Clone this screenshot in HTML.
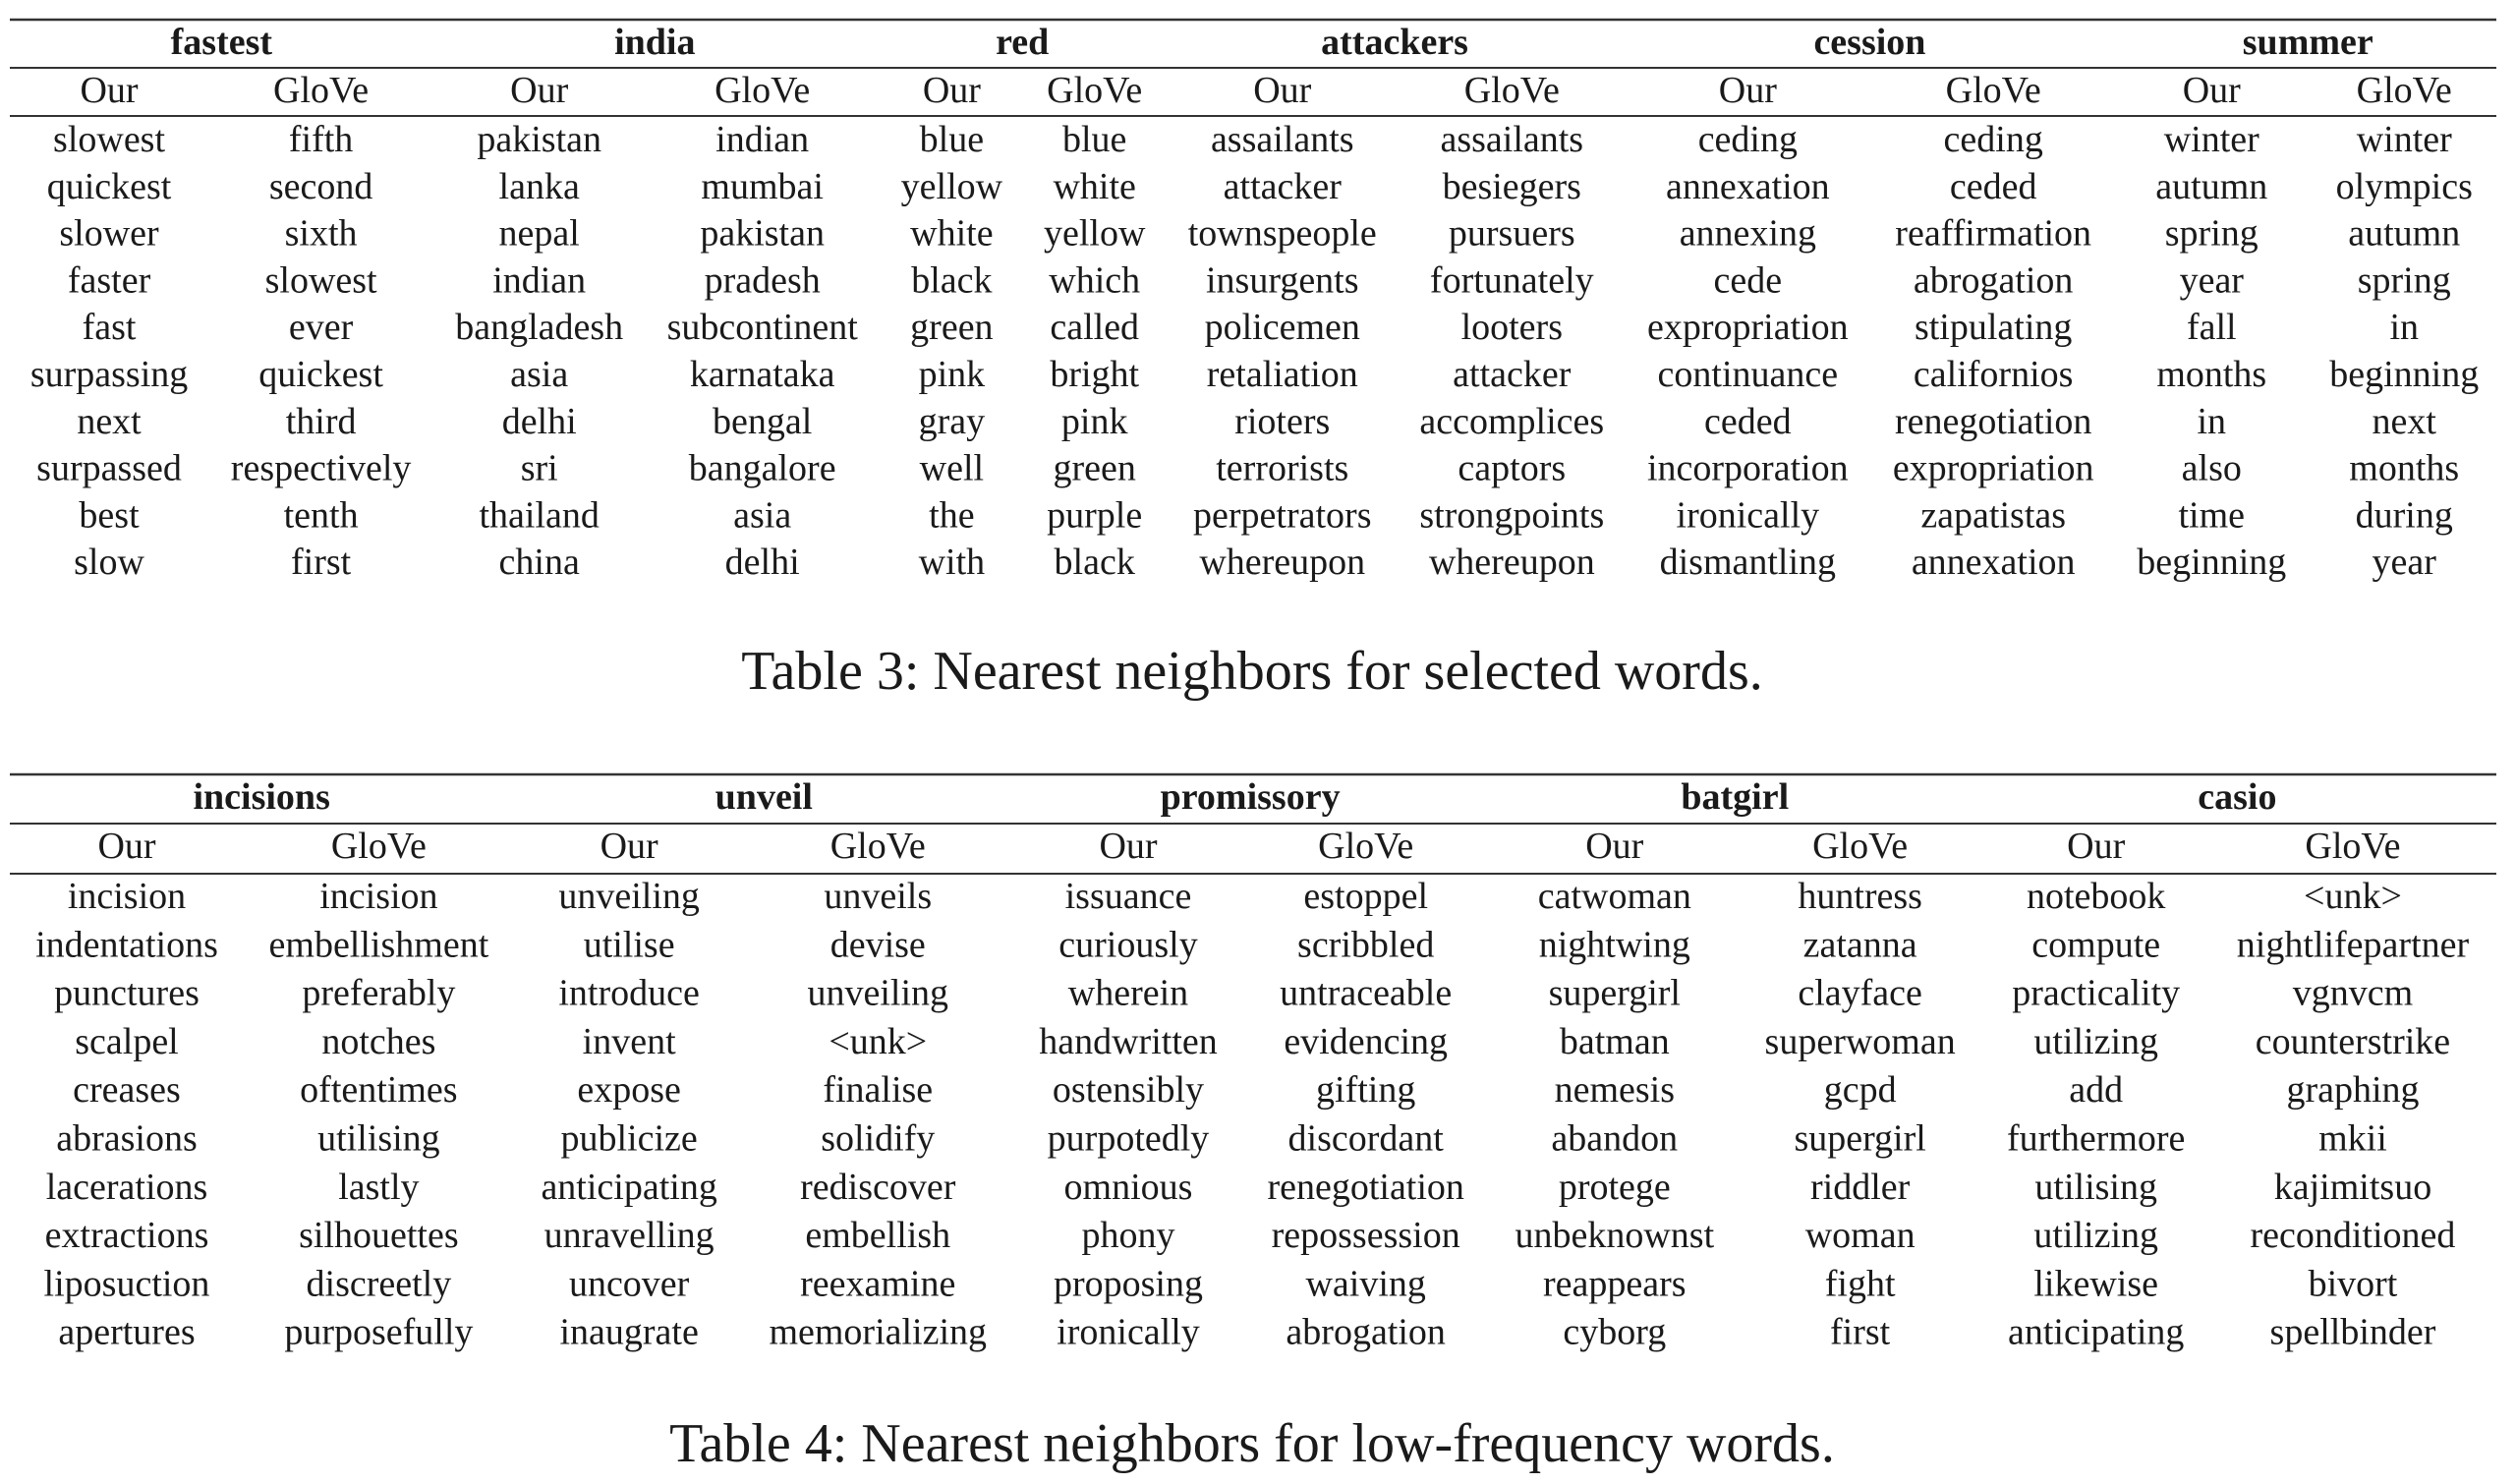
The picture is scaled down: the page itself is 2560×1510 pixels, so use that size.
<!DOCTYPE html>
<html><head><meta charset="utf-8">
<style>
html,body{margin:0;padding:0;background:#fff;}
svg{display:block;}
text{font-family:"Liberation Serif",serif;fill:#1a1a1a;}
</style></head>
<body>
<svg id="fig" width="2560" height="1510" viewBox="0 0 2560 1510" xmlns="http://www.w3.org/2000/svg">
<g id="t3"></g>
<g id="t4"></g>
<text x="1274" y="701" font-size="56" text-anchor="middle">Table 3: Nearest neighbors for selected words.</text>
<text x="1274" y="1487" font-size="56" text-anchor="middle">Table 4: Nearest neighbors for low-frequency words.</text>
</svg>
<script>
const t3Words = ["fastest","india","red","attackers","cession","summer"];
const t3HeadX = [138,408,637,869,1165,1438];
const t3ColX = [68,200,336,475,593,682,799,942,1089,1242,1378,1498];
const t3Cols = [
["slowest","quickest","slower","faster","fast","surpassing","next","surpassed","best","slow"],
["fifth","second","sixth","slowest","ever","quickest","third","respectively","tenth","first"],
["pakistan","lanka","nepal","indian","bangladesh","asia","delhi","sri","thailand","china"],
["indian","mumbai","pakistan","pradesh","subcontinent","karnataka","bengal","bangalore","asia","delhi"],
["blue","yellow","white","black","green","pink","gray","well","the","with"],
["blue","white","yellow","which","called","bright","pink","green","purple","black"],
["assailants","attacker","townspeople","insurgents","policemen","retaliation","rioters","terrorists","perpetrators","whereupon"],
["assailants","besiegers","pursuers","fortunately","looters","attacker","accomplices","captors","strongpoints","whereupon"],
["ceding","annexation","annexing","cede","expropriation","continuance","ceded","incorporation","ironically","dismantling"],
["ceding","ceded","reaffirmation","abrogation","stipulating","californios","renegotiation","expropriation","zapatistas","annexation"],
["winter","autumn","spring","year","fall","months","in","also","time","beginning"],
["winter","olympics","autumn","spring","in","beginning","next","months","during","year"]
];
const t4Words = ["incisions","unveil","promissory","batgirl","casio"];
const t4HeadX = [163,476,779,1081,1394];
const t4ColX = [79,236,392,547,703,851,1006,1159,1306,1466];
const t4Cols = [
["incision","indentations","punctures","scalpel","creases","abrasions","lacerations","extractions","liposuction","apertures"],
["incision","embellishment","preferably","notches","oftentimes","utilising","lastly","silhouettes","discreetly","purposefully"],
["unveiling","utilise","introduce","invent","expose","publicize","anticipating","unravelling","uncover","inaugrate"],
["unveils","devise","unveiling","<unk>","finalise","solidify","rediscover","embellish","reexamine","memorializing"],
["issuance","curiously","wherein","handwritten","ostensibly","purpotedly","omnious","phony","proposing","ironically"],
["estoppel","scribbled","untraceable","evidencing","gifting","discordant","renegotiation","repossession","waiving","abrogation"],
["catwoman","nightwing","supergirl","batman","nemesis","abandon","protege","unbeknownst","reappears","cyborg"],
["huntress","zatanna","clayface","superwoman","gcpd","supergirl","riddler","woman","fight","first"],
["notebook","compute","practicality","utilizing","add","furthermore","utilising","utilizing","likewise","anticipating"],
["<unk>","nightlifepartner","vgnvcm","counterstrike","graphing","mkii","kajimitsuo","reconditioned","bivort","spellbinder"]
];
const NS="http://www.w3.org/2000/svg";
const SX=1.633;
function txt(g,x,y,s,size,bold,name){
  const t=document.createElementNS(NS,"text");
  t.setAttribute("x",x);t.setAttribute("y",y);
  t.setAttribute("font-size",size);t.setAttribute("text-anchor","middle");
  if(bold)t.setAttribute("font-weight","bold");
  t.textContent=s;
  
  
  g.appendChild(t);
}
function rule(g,y,w,name){
  const l=document.createElementNS(NS,"line");
  l.setAttribute("x1",10);l.setAttribute("x2",2540);
  l.setAttribute("y1",y);l.setAttribute("y2",y);
  l.setAttribute("stroke","#333");l.setAttribute("stroke-width",w);
  
  
  g.appendChild(l);
}
function build(g,words,headX,colX,cols,top,headY,r2,subY,r3,row0,dy){
  rule(g,top,2.5,"top-rule");
  rule(g,r2,2,"header-rule");
  rule(g,r3,2,"subheader-rule");
  words.forEach((w,i)=>txt(g,headX[i]*SX,headY,w,38,true,"query-word-header"));
  colX.forEach((x,i)=>{
    txt(g,x*SX,subY,i%2?"GloVe":"Our",38,false,"column-header");
    cols[i].forEach((s,j)=>txt(g,x*SX,row0+j*dy,s,38,false,"neighbor-word"));
  });
}
build(document.getElementById("t3"),t3Words,t3HeadX,t3ColX,t3Cols,20,55,69,104,118,154,47.8);
build(document.getElementById("t4"),t4Words,t4HeadX,t4ColX,t4Cols,788,823,838,873,889,924,49.3);
</script>
</body></html>
